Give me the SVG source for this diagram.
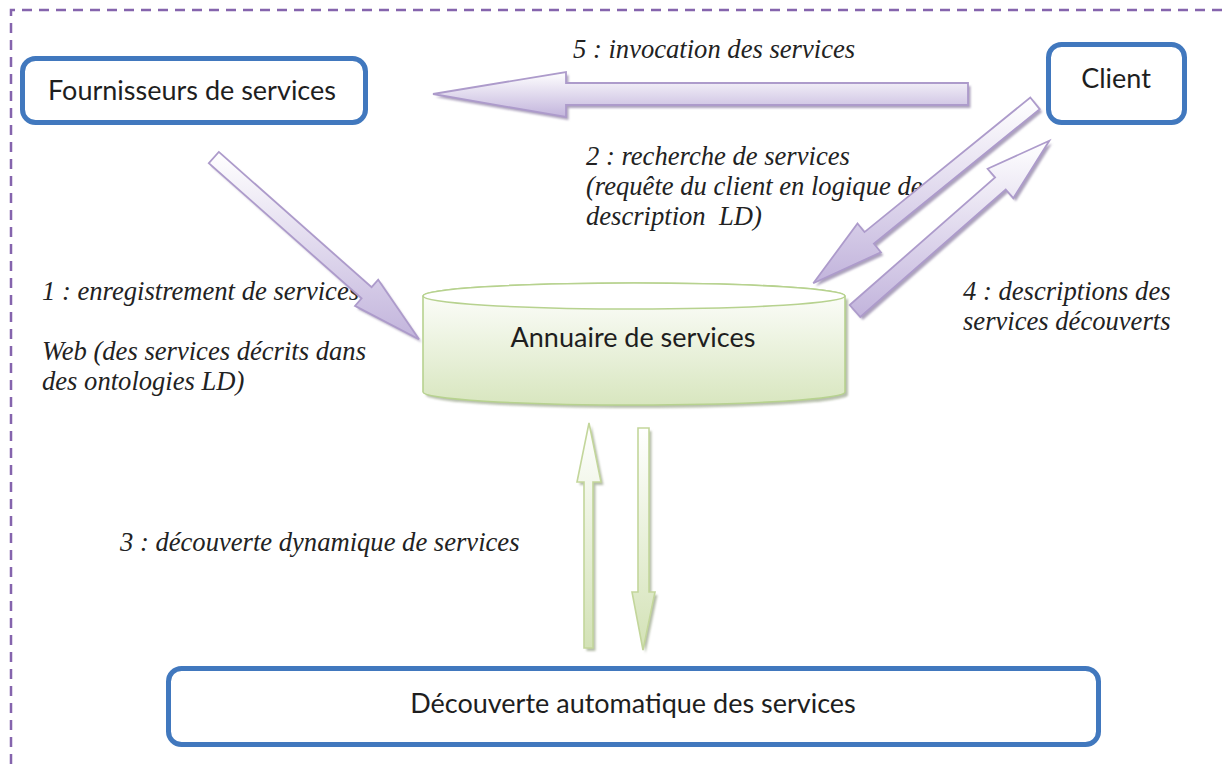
<svg xmlns="http://www.w3.org/2000/svg" width="1228" height="764" viewBox="0 0 1228 764">
  <style>
    .box { fill: #ffffff; stroke: #4178be; stroke-width: 5; }
    .boxtxt { font-family: Lato, "Open Sans", sans-serif; font-size: 27px; fill: #1e1e1e; text-anchor: middle; }
    .lbl { font-family: "Liberation Serif", "Times New Roman", serif; font-style: italic; font-size: 26.6px; fill: #222222; }
    .parrow { fill: url(#lav); stroke: #ad9bcb; stroke-width: 1.8; stroke-linejoin: miter; }
    .pshadow { fill: #9d92b2; opacity: 0.85; }
    .garrow { fill: url(#grn); stroke: #c3d69b; stroke-width: 1.6; }
    .gshadow { fill: #a3ad93; opacity: 0.8; }
  </style>
  <defs>
    <linearGradient id="lav" x1="0" y1="0" x2="0" y2="1">
      <stop offset="0" stop-color="#ffffff"/>
      <stop offset="1" stop-color="#c2b4dc"/>
    </linearGradient>
    <linearGradient id="grn" x1="0" y1="0" x2="0" y2="1">
      <stop offset="0" stop-color="#ffffff"/>
      <stop offset="1" stop-color="#d3e2b6"/>
    </linearGradient>
    <linearGradient id="cyl" x1="0" y1="0" x2="0" y2="1">
      <stop offset="0" stop-color="#ffffff"/>
      <stop offset="1" stop-color="#d8e6bf"/>
    </linearGradient>
    <filter id="soft" x="-10%" y="-10%" width="120%" height="120%">
      <feGaussianBlur stdDeviation="0.8"/>
    </filter>
  </defs>

  <!-- dashed frame -->
  <path d="M11,764 V10 H1228" fill="none" stroke="#8564ad" stroke-width="2.5" stroke-dasharray="10 7"/>

  <!-- text labels -->
  <g id="labels">
    <text class="lbl" x="573" y="58">5 : invocation des services</text>
    <text class="lbl" x="586" y="165">2 : recherche de services</text>
    <text class="lbl" x="586" y="195">(requête du client en logique de</text>
    <text class="lbl" x="586" y="225" xml:space="preserve">description  LD)</text>
    <text class="lbl" x="42" y="300">1 : enregistrement de services</text>
    <text class="lbl" x="42" y="360">Web (des services décrits dans</text>
    <text class="lbl" x="42" y="390">des ontologies LD)</text>
    <text class="lbl" x="120" y="551">3 : découverte dynamique de services</text>
    <text class="lbl" x="963" y="300">4 : descriptions des</text>
    <text class="lbl" x="963" y="330">services découverts</text>
  </g>

  <!-- nodes -->
  <g id="fournisseurs">
    <rect class="box" x="22.5" y="58.5" width="343" height="64" rx="13"/>
    <text class="boxtxt" x="192" y="100">Fournisseurs de services</text>
  </g>

  <g id="client">
    <rect class="box" x="1048.5" y="44.5" width="136" height="78" rx="13"/>
    <text class="boxtxt" x="1116" y="88">Client</text>
  </g>

  <g id="annuaire">
    <path d="M426,299 V395 A211,13 0 0 0 848,395 V299 Z" fill="#9aa58a" opacity="0.7" filter="url(#soft)"/>
    <path d="M423,296 V392 A211,13 0 0 0 845,392 V296 A211,13 0 0 0 423,296 Z" fill="url(#cyl)" stroke="#b7d28f" stroke-width="1.6"/>
    <ellipse cx="634" cy="296" rx="211" ry="13" fill="#ffffff" stroke="#b7d28f" stroke-width="1.6"/>
    <text class="boxtxt" x="633" y="347">Annuaire de services</text>
  </g>

  <g id="decouverte">
    <rect class="box" x="168.5" y="668.5" width="930" height="76" rx="13"/>
    <text class="boxtxt" x="633" y="713">Découverte automatique des services</text>
  </g>

  <!-- connectors -->
  <g id="connectors">
    <!-- 5 : invocation -->
    <g transform="translate(2.5,3)" filter="url(#soft)">
      <polygon class="pshadow" points="968,83 566,83 566,72 433,94 566,117 566,105 968,105"/>
    </g>
    <polygon class="parrow" points="968,83 566,83 566,72 433,94 566,117 566,105 968,105"/>

    <!-- 1 : enregistrement -->
    <g transform="translate(2.5,3)" filter="url(#soft)">
      <polygon class="pshadow" points="218.8,151.9 371.6,287.2 378.2,279.7 419,339.2 355,305.9 361.6,298.4 208.8,163.1"/>
    </g>
    <polygon class="parrow" points="218.8,151.9 371.6,287.2 378.2,279.7 419,339.2 355,305.9 361.6,298.4 208.8,163.1"/>

    <!-- 2 : recherche -->
    <g transform="translate(2.5,3)" filter="url(#soft)">
      <polygon class="pshadow" points="1039.7,109.1 873.9,243.7 880.9,252.3 813.3,283.3 857.5,223.5 864.5,232.1 1030.3,97.5"/>
    </g>
    <polygon class="parrow" points="1039.7,109.1 873.9,243.7 880.9,252.3 813.3,283.3 857.5,223.5 864.5,232.1 1030.3,97.5"/>

    <!-- 4 : descriptions -->
    <g transform="translate(2.5,3)" filter="url(#soft)">
      <polygon class="pshadow" points="849.7,305 995.1,177.5 987.6,168.8 1049.3,140.7 1013.3,198.2 1005.7,189.5 860.3,317"/>
    </g>
    <polygon class="parrow" points="849.7,305 995.1,177.5 987.6,168.8 1049.3,140.7 1013.3,198.2 1005.7,189.5 860.3,317"/>

    <!-- 3 : découverte dynamique (up) -->
    <g transform="translate(2.5,3)" filter="url(#soft)">
      <polygon class="gshadow" points="589,423 601,482 593,482 593,648 584,648 584,482 577,482"/>
    </g>
    <polygon class="garrow" points="589,423 601,482 593,482 593,648 584,648 584,482 577,482"/>

    <!-- 3 : découverte dynamique (down) -->
    <g transform="translate(2.5,3)" filter="url(#soft)">
      <polygon class="gshadow" points="638,428 649,428 649,592 655,592 643,650 632,592 638,592"/>
    </g>
    <polygon class="garrow" points="638,428 649,428 649,592 655,592 643,650 632,592 638,592"/>
  </g>
</svg>
